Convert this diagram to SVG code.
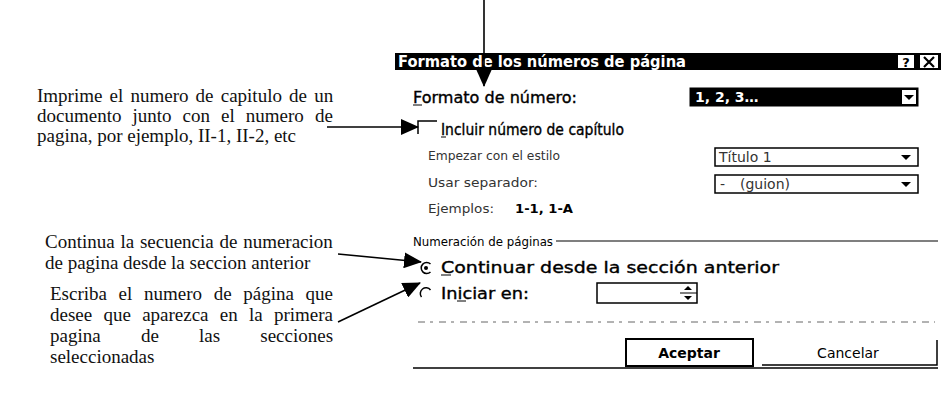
<svg xmlns="http://www.w3.org/2000/svg" width="941" height="405" viewBox="0 0 941 405">
<style>
.note{font-family:"Liberation Serif","Times New Roman",serif;font-size:19px;fill:#111}
.ui{font-family:"DejaVu Sans","Verdana",sans-serif;font-size:15px;fill:#000}
.hv{stroke:#000;stroke-width:0.35}
.sm{font-size:13px}
.dim{fill:#333}
.title{font-family:"DejaVu Sans","Verdana",sans-serif;font-size:15px;font-weight:bold;fill:#fff}
.edge{stroke:#000;stroke-width:1.6;fill:none}
.box{fill:#fff;stroke:#000;stroke-width:1.5}
</style>
<defs>
<marker id="ah" markerUnits="userSpaceOnUse" markerWidth="18" markerHeight="16" refX="17" refY="8" orient="auto">
<path d="M0,0 L18,8 L0,16 Z" fill="#000"/>
</marker>
<path id="dn" d="M-5,-2 L5,-2 L0,3 Z" fill="#000"/>
</defs>
<rect width="941" height="405" fill="#fff"/>

<g id="note-capitulo">
<text class="note" x="37" y="102" word-spacing="2.4">Imprime el numero de capitulo de un</text>
<text class="note" x="37" y="122" word-spacing="6.3">documento junto con el numero de</text>
<text class="note" x="37" y="142">pagina, por ejemplo, II-1, II-2, etc</text>
</g>
<g id="note-continuar">
<text class="note" x="45" y="248" word-spacing="1">Continua la secuencia de numeracion</text>
<text class="note" x="45" y="269">de pagina desde la seccion anterior</text>
</g>
<g id="note-iniciar">
<text class="note" x="50" y="300" word-spacing="6.9">Escriba el numero de página que</text>
<text class="note" x="50" y="321" word-spacing="6.5">desee que aparezca en la primera</text>
<text class="note" y="342"><tspan x="50">pagina</tspan><tspan x="141">de</tspan><tspan x="199">las</tspan><tspan x="260.3">secciones</tspan></text>
<text class="note" x="50" y="363">seleccionadas</text>
</g>

<g id="dialog">
<rect x="395" y="53" width="546" height="17" fill="#000"/>
<text class="title" x="398" y="67" textLength="288" lengthAdjust="spacingAndGlyphs">Formato de los números de página</text>
<rect x="898" y="55" width="16" height="13" fill="#fff"/>
<text x="906" y="67" text-anchor="middle" style="font-family:'DejaVu Sans',sans-serif;font-size:13px;font-weight:bold">?</text>
<rect x="920" y="55" width="18" height="13" fill="#fff"/>
<path d="M924,57 L934,67 M934,57 L924,67" stroke="#000" stroke-width="2.2"/>

<text class="ui hv" x="413" y="103" textLength="164" lengthAdjust="spacingAndGlyphs">Formato de número:</text>
<line x1="413" y1="105" x2="422" y2="105" stroke="#000"/>
<rect x="690" y="88" width="228" height="18" fill="#000" stroke="#000"/>
<text class="ui" x="695" y="102" style="fill:#fff;font-size:14px;font-weight:bold">1, 2, 3…</text>
<rect x="902" y="90" width="14" height="14" fill="#fff"/>
<use href="#dn" x="909" y="97"/>

<path d="M418,134 L418,121 L437,121" stroke="#000" stroke-width="1.5" fill="none"/>
<text class="ui hv" x="441" y="135" textLength="183" lengthAdjust="spacingAndGlyphs">Incluir número de capítulo</text>
<line x1="441" y1="137" x2="446" y2="137" stroke="#000"/>

<text class="ui sm dim" x="428" y="160" textLength="132" lengthAdjust="spacingAndGlyphs">Empezar con el estilo</text>
<rect x="715" y="148" width="203" height="18" class="box"/>
<text class="ui dim" x="719" y="162" style="font-size:14px">Título 1</text>
<use href="#dn" x="906" y="157"/>

<text class="ui sm dim" x="428" y="187" textLength="110" lengthAdjust="spacingAndGlyphs">Usar separador:</text>
<rect x="715" y="175" width="203" height="18" class="box"/>
<text class="ui dim" y="189" style="font-size:14px"><tspan x="720">-</tspan><tspan x="740">(guion)</tspan></text>
<use href="#dn" x="906" y="184"/>

<text class="ui sm dim" x="428" y="213" textLength="66" lengthAdjust="spacingAndGlyphs">Ejemplos:</text>
<text class="ui sm" x="515" y="213" style="font-weight:bold" textLength="58" lengthAdjust="spacingAndGlyphs">1-1, 1-A</text>

<text class="ui sm" x="413" y="246" textLength="140" lengthAdjust="spacingAndGlyphs">Numeración de páginas</text>
<line x1="556" y1="241" x2="938" y2="241" stroke="#000" stroke-width="1.2"/>

<path d="M430.5,264 A5.5,5.5 0 1 0 430.5,272" stroke="#000" stroke-width="1.5" fill="none"/>
<circle cx="426" cy="268" r="2" fill="#000"/>
<text class="ui hv" x="441" y="273" textLength="338" lengthAdjust="spacingAndGlyphs">Continuar desde la sección anterior</text>
<line x1="441" y1="275" x2="451" y2="275" stroke="#000"/>

<path d="M430.5,290 A5.5,5.5 0 0 0 421.5,297" stroke="#000" stroke-width="1.5" fill="none"/>
<text class="ui hv" x="441" y="299" textLength="88" lengthAdjust="spacingAndGlyphs">Iniciar en:</text>
<line x1="457" y1="301" x2="466" y2="301" stroke="#000"/>
<rect x="597" y="283" width="100" height="20" class="box"/>
<line x1="680" y1="293" x2="697" y2="293" stroke="#000"/>
<path d="M684,290 L692,290 L688,286 Z M684,296 L692,296 L688,300 Z" fill="#000"/>

<line x1="418" y1="322" x2="935" y2="322" stroke="#666" stroke-width="1" stroke-dasharray="7,5,3,6"/>

<rect x="626" y="339" width="127" height="27" fill="#fff" stroke="#000" stroke-width="2"/>
<text class="ui" x="689" y="358" text-anchor="middle" style="font-weight:bold;font-size:14px">Aceptar</text>
<path d="M762,365 L937,365 L937,340" stroke="#000" stroke-width="1.5" fill="none"/>
<text class="ui" x="848" y="358" text-anchor="middle" style="font-size:14px">Cancelar</text>
<line x1="413" y1="368" x2="938" y2="368" stroke="#000" stroke-width="1.5"/>
</g>

<g id="connectors">
<line class="edge" x1="484" y1="0" x2="484" y2="86" marker-end="url(#ah)"/>
<line class="edge" x1="327" y1="127" x2="418" y2="127" marker-end="url(#ah)"/>
<line class="edge" x1="338" y1="254" x2="421" y2="262" marker-end="url(#ah)"/>
<line class="edge" x1="338" y1="322" x2="420" y2="283" marker-end="url(#ah)"/>
</g>
</svg>
